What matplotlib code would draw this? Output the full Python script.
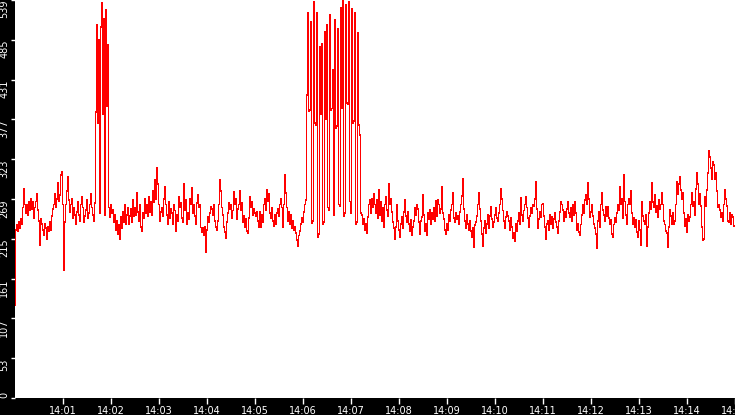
import numpy as np
import matplotlib
matplotlib.use('Agg')
import matplotlib.pyplot as plt
import matplotlib.dates as mdates

# one sample every 1.25 s (48 per minute), one list per minute from 14:00:00
min00 = [126, 228, 234, 226, 238, 230, 242, 236, 258, 283, 262, 250,
         262, 248, 266, 254, 270, 256, 265, 244, 258, 266, 277, 255,
         240, 207, 242, 236, 228, 221, 236, 230, 215, 232, 226, 238,
         228, 246, 256, 262, 277, 258, 270, 291, 266, 275, 302, 306]
min01 = [262, 173, 238, 262, 280, 300, 268, 252, 262, 270, 244, 258,
         248, 236, 252, 266, 248, 240, 262, 272, 258, 238, 246, 255,
         268, 244, 250, 262, 276, 258, 248, 240, 264, 387, 505, 372,
         485, 250, 502, 535, 385, 514, 248, 526, 395, 478, 258, 245]
min02 = [262, 250, 255, 238, 248, 228, 240, 222, 235, 215, 245, 230,
         252, 238, 262, 236, 248, 258, 236, 246, 256, 238, 268, 246,
         258, 248, 278, 252, 240, 262, 232, 226, 250, 244, 270, 250,
         262, 246, 272, 252, 266, 248, 280, 265, 296, 270, 312, 290]
min03 = [262, 240, 252, 258, 246, 270, 286, 262, 248, 236, 266, 244,
         256, 250, 236, 262, 254, 226, 248, 240, 272, 258, 264, 244,
         238, 290, 255, 268, 236, 250, 242, 270, 262, 284, 250, 262,
         246, 236, 264, 275, 258, 262, 231, 225, 230, 220, 232, 198]
min04 = [228, 245, 238, 250, 259, 256, 248, 261, 240, 232, 228, 240,
         262, 295, 280, 258, 248, 232, 225, 217, 238, 250, 264, 256,
         262, 244, 254, 279, 262, 270, 242, 256, 262, 280, 255, 264,
         238, 246, 231, 242, 226, 223, 244, 272, 258, 265, 248, 256]
min05 = [250, 246, 252, 240, 232, 252, 231, 248, 238, 262, 270, 255,
         282, 266, 276, 250, 244, 258, 240, 233, 248, 236, 250, 256,
         246, 262, 270, 258, 232, 262, 302, 278, 258, 240, 252, 236,
         248, 230, 240, 228, 232, 224, 214, 206, 220, 226, 236, 244]
min06 = [238, 252, 262, 268, 410, 521, 388, 390, 509, 237, 240, 536,
         372, 370, 521, 218, 222, 475, 385, 480, 236, 238, 496, 378,
         505, 258, 255, 519, 390, 392, 444, 248, 512, 365, 368, 500,
         262, 260, 528, 392, 539, 246, 250, 532, 400, 398, 537, 266]
min07 = [250, 527, 372, 375, 522, 236, 238, 494, 370, 356, 250, 248,
         235, 242, 228, 236, 224, 245, 262, 268, 250, 270, 258, 276,
         262, 250, 268, 244, 282, 248, 266, 240, 258, 232, 262, 272,
         255, 246, 290, 262, 270, 252, 238, 230, 215, 232, 262, 240]
min08 = [228, 218, 236, 245, 230, 252, 268, 246, 238, 252, 236, 226,
         241, 220, 232, 240, 258, 248, 262, 256, 238, 222, 240, 245,
         275, 248, 226, 236, 220, 250, 242, 255, 235, 250, 242, 258,
         240, 267, 246, 268, 262, 250, 256, 286, 250, 242, 228, 222]
min09 = [236, 228, 248, 240, 255, 262, 278, 244, 238, 250, 242, 246,
         236, 252, 262, 274, 297, 256, 240, 230, 248, 236, 228, 240,
         226, 218, 230, 205, 234, 238, 246, 262, 278, 256, 240, 222,
         206, 230, 240, 224, 236, 248, 230, 246, 259, 242, 232, 238]
min10 = [248, 258, 244, 240, 250, 262, 283, 270, 254, 240, 230, 245,
         252, 246, 240, 228, 244, 232, 217, 224, 212, 236, 226, 240,
         250, 236, 271, 248, 240, 254, 262, 273, 258, 244, 232, 246,
         258, 250, 262, 260, 270, 292, 256, 230, 242, 252, 245, 262]
min11 = [263, 246, 232, 215, 236, 240, 228, 248, 236, 245, 230, 242,
         250, 238, 232, 224, 240, 252, 266, 262, 255, 240, 252, 245,
         256, 266, 250, 245, 258, 240, 262, 248, 266, 250, 227, 236,
         225, 220, 235, 248, 262, 250, 268, 275, 262, 291, 270, 245]
min12 = [252, 262, 246, 236, 230, 222, 203, 240, 252, 232, 262, 278,
         255, 248, 240, 259, 246, 259, 244, 236, 241, 222, 218, 235,
         244, 238, 250, 262, 255, 286, 262, 270, 244, 302, 266, 248,
         236, 262, 270, 262, 280, 250, 236, 244, 232, 241, 225, 218]
min13 = [240, 228, 207, 265, 246, 240, 235, 248, 206, 232, 250, 265,
         256, 291, 265, 258, 275, 252, 260, 245, 268, 256, 262, 278,
         262, 240, 235, 226, 224, 205, 232, 255, 246, 235, 250, 236,
         240, 262, 292, 276, 290, 299, 282, 270, 278, 250, 233, 242]
min14 = [225, 248, 240, 245, 262, 278, 260, 265, 248, 283, 305, 290,
         262, 276, 260, 232, 214, 215, 272, 260, 282, 305, 334, 326,
         312, 296, 320, 315, 296, 305, 280, 258, 262, 255, 245, 250,
         240, 262, 282, 270, 260, 240, 238, 250, 236, 248, 245, 233]

y_max = 539
ytick_labels = ['0', '53', '107', '161', '215', '269', '323', '377', '431', '485', '539']

values = np.concatenate([min00, min01, min02, min03, min04, min05, min06, min07,
                         min08, min09, min10, min11, min12, min13, min14])
start = np.datetime64('2024-01-01T14:00:00')
times = start + (np.arange(len(values)) * 1250).astype('timedelta64[ms]')
tick_times = start + (np.arange(1, 16) * 60).astype('timedelta64[s]')

fig = plt.figure(figsize=(7.35, 4.15), dpi=100, facecolor='black')
ax = fig.add_axes([15 / 735, 17 / 415, 720 / 735, 398 / 415])
ax.set_facecolor('white')

ax.plot(times, values, color='#ff0000', lw=0.6, antialiased=False, drawstyle='steps-mid')

ax.set_xlim(start, start + np.timedelta64(15, 'm'))
ax.set_ylim(0, y_max)

ax.set_xticks(tick_times)
ax.xaxis.set_major_formatter(mdates.DateFormatter('%H:%M'))
ax.set_yticks(np.linspace(0, y_max, 11))
ax.set_yticklabels(ytick_labels, rotation=90, va='top')
ax.get_yticklabels()[0].set_va('bottom')

ax.tick_params(axis='y', colors='white', length=3, width=1, pad=1, labelsize=7)
ax.tick_params(axis='x', colors='white', length=4, width=1, pad=2, labelsize=7)
for s in ax.spines.values():
    s.set_visible(False)

fig.savefig('out.png', dpi=100, facecolor='black')
